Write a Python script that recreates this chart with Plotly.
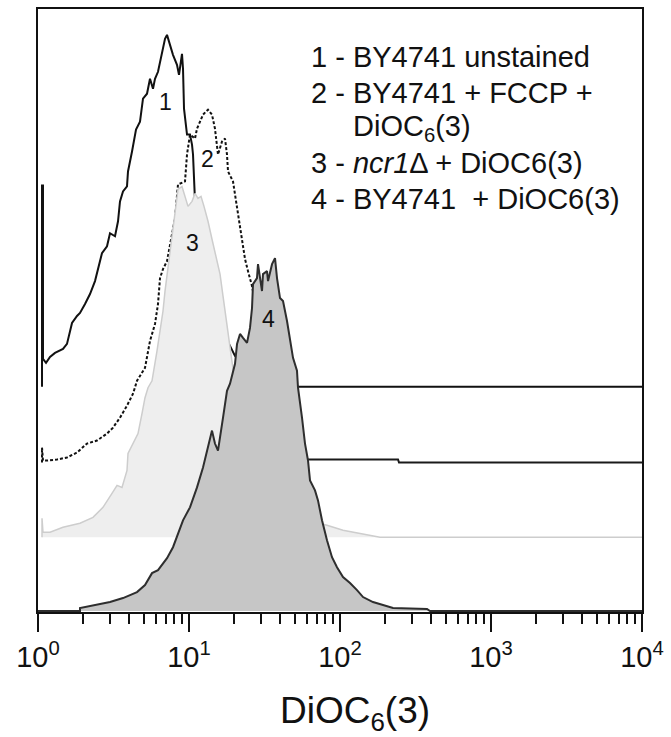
import numpy as np
import plotly.graph_objects as go

# ---------------- data ----------------
# x: DiOC6(3) fluorescence intensity (log axis), counts: events (arbitrary units)
c1_x = [1.063, 1.063, 1.079, 1.079, 1.130, 1.201, 1.296, 1.464, 1.556, 1.680, 1.813, 1.897,
        2.048, 2.210, 2.385, 2.497, 2.653, 2.864, 2.998, 3.236, 3.388, 3.491, 3.655, 3.885,
        3.945, 4.194, 4.457, 4.736, 4.959, 5.271, 5.517, 5.775, 5.954, 6.233, 6.625, 6.936,
        7.151, 7.484, 7.834, 8.327, 8.586, 8.987, 9.127, 9.267, 9.701, 10.15, 10.47, 10.63,
        10.96, 12.76, 14.86, 17.32, 20.17, 25.35, 31.87, 40.06, 53.52, 10000]
c1_counts = [0, 202, 202, 28, 24, 30, 34, 38, 43, 64, 71, 74,
             83, 93, 106, 119, 134, 141, 154, 151, 166, 186, 196, 201,
             216, 236, 258, 266, 289, 294, 309, 299, 309, 316, 333, 349,
             353, 343, 333, 323, 313, 334, 319, 279, 253, 253, 243, 233,
             186, 136, 86, 51, 31, 16, 8, 3, 0, 0]

c2_x = [1.063, 1.063, 1.079, 1.147, 1.336, 1.556, 1.813, 2.111, 2.459, 2.864, 3.139, 3.491,
        3.885, 4.258, 4.525, 5.112, 5.517, 5.954, 6.233, 6.426, 6.727, 7.151, 7.716, 8.077,
        8.456, 9.409, 9.701, 10.15, 10.96, 11.30, 11.83, 12.38, 13.36, 14.20, 14.86, 15.32,
        15.56, 16.54, 17.32, 17.85, 18.13, 19.56, 20.17, 20.80, 21.77, 23.50, 24.59, 26.14,
        29.53, 34.40, 40.06, 46.66, 54.34, 60.47, 242.2, 245.9, 10000]
c2_counts = [0, 15, 2, 2, 3, 5, 10, 19, 22, 29, 35, 45,
             57, 69, 82, 95, 122, 139, 159, 185, 194, 202, 229, 245,
             279, 282, 309, 329, 325, 335, 342, 349, 354, 349, 335, 315,
             309, 322, 325, 309, 292, 282, 269, 255, 235, 204, 192, 177,
             132, 92, 52, 22, 7, 3, 3, 0, 0]

c3_x = [1.063, 1.063, 1.079, 1.201, 1.464, 1.897, 2.313, 2.694, 3.091, 3.337, 3.600, 3.885,
        3.945, 4.258, 4.596, 4.883, 5.112, 5.352, 5.689, 6.140, 6.426, 6.727, 6.936, 7.484,
        8.077, 8.456, 8.987, 9.409, 9.849, 10.47, 10.96, 11.47, 12.01, 12.57, 13.36, 14.20,
        15.10, 16.05, 16.80, 17.85, 18.69, 19.56, 21.77, 25.35, 29.53, 34.40, 43.24, 54.34,
        68.30, 82.01, 104.7, 135.7, 184.0, 10000]
c3_counts = [0, 19, 5, 5, 10, 14, 20, 30, 44, 52, 50, 67,
             84, 94, 104, 124, 140, 150, 157, 187, 207, 227, 247, 287,
             327, 349, 352, 342, 332, 337, 345, 340, 342, 332, 317, 299,
             282, 264, 242, 214, 190, 169, 137, 97, 67, 42, 27, 19,
             15, 12, 7, 4, 0, 0]

c4_x = [1.0, 1.897, 1.897, 2.459, 2.998, 3.655, 4.525, 5.112, 5.689, 6.233, 6.727, 7.151,
        7.834, 9.127, 10.15, 11.30, 12.38, 13.36, 14.20, 14.86, 15.56, 16.80, 17.85, 18.69,
        19.56, 20.17, 20.80, 21.77, 22.79, 24.22, 25.35, 26.14, 26.54, 28.20, 28.64, 30.44,
        30.91, 32.86, 33.37, 34.40, 35.47, 37.12, 38.27, 40.06, 41.94, 44.57, 46.66, 48.84,
        51.90, 52.71, 56.02, 58.65, 61.40, 63.30, 68.30, 71.49, 76.01, 82.01, 88.51, 95.52,
        104.7, 116.5, 129.6, 142.1, 165.4, 192.6, 224.4, 376.9, 394.5, 10000]
c4_counts = [0, 0, 3, 6, 9, 13, 19, 26, 38, 41, 48, 53,
             64, 91, 104, 124, 144, 164, 181, 168, 161, 194, 221, 228,
             241, 248, 268, 278, 274, 269, 284, 304, 328, 334, 348, 321,
             338, 341, 331, 341, 348, 354, 334, 314, 311, 291, 274, 254,
             241, 224, 194, 168, 151, 131, 121, 111, 91, 71, 54, 44,
             34, 28, 21, 14, 9, 6, 3, 2, 0, 0]

series_names = ["1", "2", "3", "4"]
series_offsets = [226, 150, 75, 1]   # vertical stacking offsets of the overlay

legend_lines = [
    "1 - BY4741 unstained",
    "2 - BY4741 + FCCP +",
    "DiOC<sub>6</sub>(3)",
    "3 - <i>ncr1</i>Δ + DiOC6(3)",
    "4 - BY4741 \u00a0+ DiOC6(3)",
]

tick_vals = [1, 10, 100, 1000, 10000]
tick_text = ["10<sup>0</sup>", "10<sup>1</sup>", "10<sup>2</sup>", "10<sup>3</sup>", "10<sup>4</sup>"]
minor_vals = [m * 10 ** d for d in range(4) for m in range(2, 10)]
x_title = "DiOC<sub>6</sub>(3)"

# ---------------- figure ----------------
FONT = "Arial, Liberation Sans, Helvetica, sans-serif"
W, H = 671, 737
L, R, T, B = 38, 29, 7, 125


def px_to_paper(px, py):
    return (px - L) / (W - L - R), (H - B - py) / (H - T - B)


fig = go.Figure()


def add_curve(x, counts, off, line, fill=None, fillcolor=None, name=""):
    y = [off + v for v in counts]
    kw = dict(x=x, y=y, mode="lines", name=name, showlegend=False, line=line,
              hoverinfo="skip")
    if fill:
        kw["fill"] = fill
        kw["fillcolor"] = fillcolor
    fig.add_trace(go.Scatter(**kw))


# 1 - unstained (solid black outline)
add_curve(c1_x, c1_counts, series_offsets[0], dict(color="#111111", width=2), name=series_names[0])

# 2 - FCCP (dotted outline; the flat zero tail renders as a solid line)
split = c2_x.index(60.47) + 1
add_curve(c2_x[:split], c2_counts[:split], series_offsets[1],
          dict(color="#111111", width=2, dash="3px,2px"), name=series_names[1])
add_curve(c2_x[split - 1:], c2_counts[split - 1:], series_offsets[1],
          dict(color="#1a1a1a", width=2), name=series_names[1])

# 3 - ncr1Δ (light grey filled)
add_curve(c3_x, c3_counts, series_offsets[2], dict(color="#cdcdcd", width=1.5),
          fill="toself", fillcolor="#eeeeee", name=series_names[2])

# 4 - BY4741 + DiOC6(3) (grey filled, dark outline)
add_curve(c4_x, c4_counts, series_offsets[3], dict(color="#2e2e2e", width=2),
          fill="toself", fillcolor="#c6c6c6", name=series_names[3])

# curve number labels
label_pos = {"1": (7.04, 512), "2": (13.16, 455), "3": (10.47, 370), "4": (33.37, 294)}
for k, (lx, ly) in label_pos.items():
    fig.add_annotation(x=np.log10(lx), y=ly, xref="x", yref="y", text=k, showarrow=False,
                       font=dict(family=FONT, size=23, color="#111111"))

# legend text block
leg_x = [309, 309, 351, 309, 309]
leg_y = [55, 91, 126, 162, 198]
for t, lx, ly in zip(legend_lines, leg_x, leg_y):
    xp, yp = px_to_paper(lx, ly)
    fig.add_annotation(x=xp, y=yp, xref="paper", yref="paper", text=t, showarrow=False,
                       xanchor="left", yanchor="middle",
                       font=dict(family=FONT, size=29, color="#111111"))

# x-axis title
xp, yp = px_to_paper(355, 713)
fig.add_annotation(x=xp, y=yp, xref="paper", yref="paper", text=x_title, showarrow=False,
                   xanchor="center", yanchor="middle",
                   font=dict(family=FONT, size=37, color="#111111"))

fig.update_xaxes(type="log", range=[0, 4], showline=True, linecolor="#111111", linewidth=2,
                 mirror=True, ticks="outside", ticklen=18, tickwidth=2, tickcolor="#111111",
                 tickvals=tick_vals, ticktext=tick_text, showgrid=False, zeroline=False,
                 tickfont=dict(family=FONT, size=29, color="#111111"),
                 minor=dict(ticks="outside", ticklen=10, tickwidth=1.5, tickcolor="#111111",
                            tickvals=minor_vals, showgrid=False))
fig.update_yaxes(range=[0, 605], showline=True, linecolor="#111111", linewidth=2, mirror=True,
                 showticklabels=False, ticks="", showgrid=False, zeroline=False)

fig.update_layout(width=W, height=H, margin=dict(l=L, r=R, t=T, b=B, pad=0),
                  plot_bgcolor="white", paper_bgcolor="white", showlegend=False)

fig.write_html("out.html", config={"displayModeBar": False},
               post_script="document.body.style.margin='0';")
